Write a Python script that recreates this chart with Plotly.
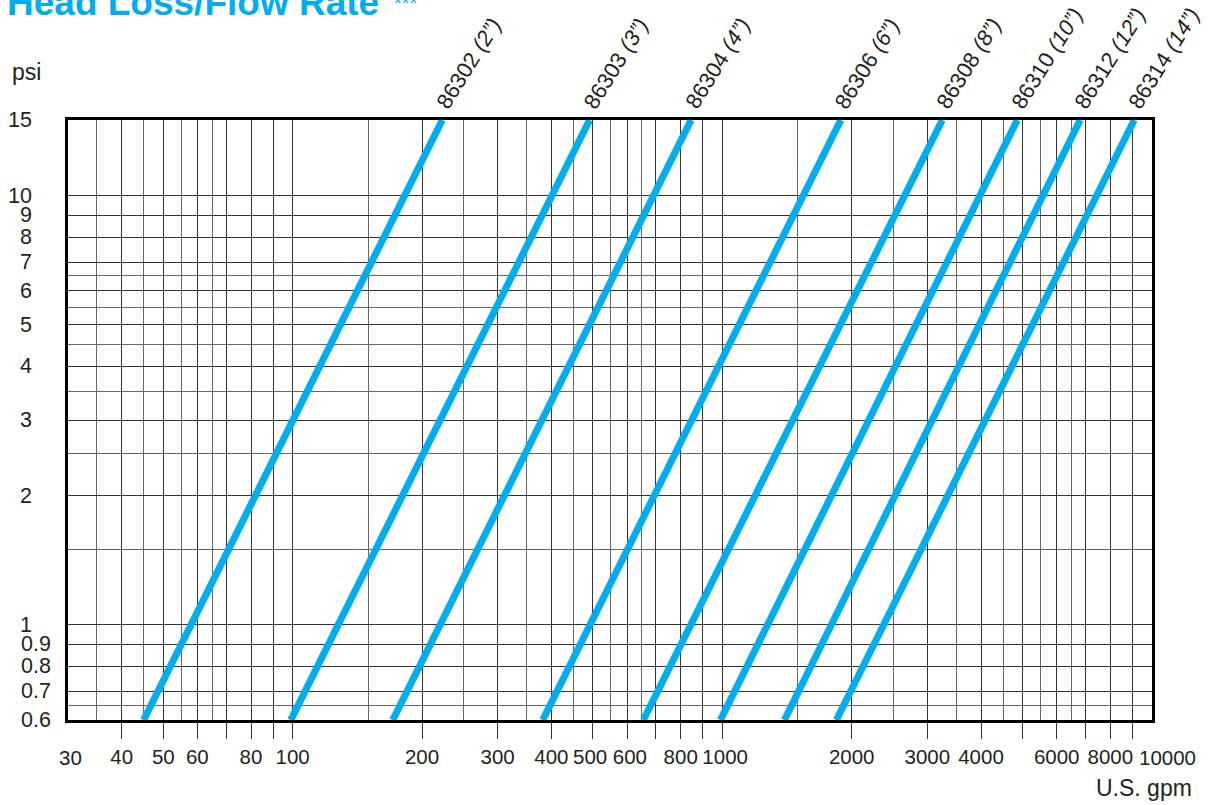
import math
import plotly.graph_objects as go

# ---- data ----
models = ["86302", "86303", "86304", "86306", "86308", "86310", "86312", "86314"]
sizes = ["2”", "3”", "4”", "6”", "8”", "10”", "12”", "14”"]
flow_low = [45, 99, 171, 382, 655, 990, 1395, 1843]      # gpm at 0.6 psi
flow_high = [223, 491, 846, 1887, 3251, 4858, 6806, 9090]  # gpm at 15 psi
psi_low = 0.6
psi_high = 15

x_major = [40, 50, 60, 70, 80, 90, 100, 200, 300, 400, 500, 600, 700, 800, 900,
           1000, 2000, 3000, 4000, 5000, 6000, 7000, 8000, 9000]
x_major_text = ["40", "50", "60", " ", "80", " ", "100", "200", "300", "400", "500\u00a0",
                "\u00a0600", " ", "800", " ", "\u00a01000", "2000", "3000", "4000", " ",
                "6000", " ", "8000", " "]
x_minor = [35, 45, 55, 65, 150, 250, 350, 450, 550, 650, 1500, 2500, 3500, 4500, 5500, 6500]
x_edge_labels = [30, 10000]

y_major = [0.7, 0.8, 0.9, 1, 2, 3, 4, 5, 6, 7, 8, 9, 10]
y_minor = [0.65, 1.5, 2.5, 3.5, 4.5, 5.5, 6.5]
y_labels = [0.6, 0.7, 0.8, 0.9, 1, 2, 3, 4, 5, 6, 7, 8, 9, 10, 15]

BLUE = "#00AEEF"
INK = "#231f20"
FONT = "Liberation Sans, Arial, sans-serif"
TICK_SIZE = 20.5

fig = go.Figure()
for i, m in enumerate(models):
    fig.add_trace(go.Scatter(
        x=[flow_low[i], flow_high[i]], y=[psi_low, psi_high],
        mode="lines", line=dict(color=BLUE, width=7), showlegend=False,
        hoverinfo="skip"))

ann = []
# line labels
for i, m in enumerate(models):
    ann.append(dict(x=math.log10(flow_high[i]), y=math.log10(psi_high), xref="x", yref="y",
                    text=f"{m} <i>({sizes[i]})</i>", showarrow=False, textangle=-58,
                    xanchor="left", yanchor="bottom", xshift=-14, yshift=4,
                    font=dict(family=FONT, size=22, color=INK)))
# y labels
for v in y_labels:
    txt = f"{v:g}"
    ann.append(dict(x=0, y=math.log10(v), xref="paper", yref="y", text=txt, showarrow=False,
                    xanchor="right", yanchor="middle",
                    xshift=-15 if v < 1 else -34,
                    font=dict(family=FONT, size=21.5, color=INK)))
# x edge labels
for v in x_edge_labels:
    ann.append(dict(x=math.log10(v), y=0, xref="x", yref="paper", text=f"{v}", showarrow=False,
                    xanchor="center", yanchor="middle", yshift=-37,
                    xshift=15 if v == 10000 else 2,
                    font=dict(family=FONT, size=TICK_SIZE, color=INK)))
# axis names
ann.append(dict(x=0, y=1, xref="paper", yref="paper", text="psi", showarrow=False,
                xanchor="center", yanchor="middle", xshift=-42, yshift=48,
                font=dict(family=FONT, size=23, color=INK)))
ann.append(dict(x=1, y=0, xref="paper", yref="paper", text="U.S. gpm", showarrow=False,
                xanchor="center", yanchor="middle", xshift=-8, yshift=-68,
                font=dict(family=FONT, size=23, color=INK)))
# title (cropped at top in the reference)
ann.append(dict(x=0, y=1, xref="paper", yref="paper",
                text="<b>Head Loss/Flow Rate</b>", showarrow=False,
                xanchor="left", yanchor="middle", xshift=-63, yshift=118,
                font=dict(family=FONT, size=37, color=BLUE)))
ann.append(dict(x=0, y=1, xref="paper", yref="paper",
                text="***", showarrow=False,
                xanchor="left", yanchor="middle", xshift=324, yshift=117.5,
                font=dict(family=FONT, size=20, color=BLUE)))

fig.update_layout(
    width=1208, height=805,
    margin=dict(l=68, r=56, t=120, b=85),
    paper_bgcolor="white", plot_bgcolor="white",
    annotations=ann,
    xaxis=dict(type="log", range=[math.log10(30), math.log10(10000)],
               tickmode="array", tickvals=x_major, ticktext=x_major_text,
               ticks="outside", ticklen=16, tickcolor="#333", tickwidth=1,
               tickangle=0, ticklabelstandoff=0,
               tickfont=dict(family=FONT, size=TICK_SIZE, color=INK),
               showgrid=True, gridcolor="#333333", gridwidth=1,
               minor=dict(tickvals=x_minor, ticks="", showgrid=True,
                          gridcolor="#666666", gridwidth=1),
               showline=True, linecolor="black", linewidth=3, mirror=True,
               zeroline=False),
    yaxis=dict(type="log", range=[math.log10(psi_low), math.log10(psi_high)],
               tickmode="array", tickvals=y_major, showticklabels=False, ticks="",
               showgrid=True, gridcolor="#333333", gridwidth=1,
               minor=dict(tickvals=y_minor, ticks="", showgrid=True,
                          gridcolor="#666666", gridwidth=1),
               showline=True, linecolor="black", linewidth=3, mirror=True,
               zeroline=False),
)

fig.write_html("out.html", config={"displayModeBar": False},
               post_script="document.body.style.margin='0';document.body.style.overflow='hidden';")
